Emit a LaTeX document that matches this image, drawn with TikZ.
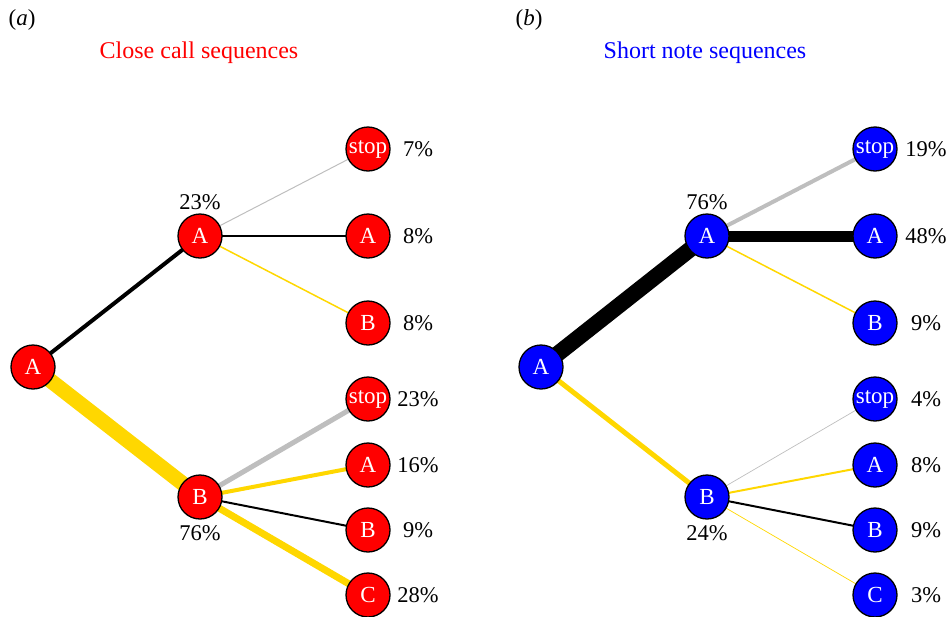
\documentclass[tikz,border=0pt]{standalone}
\usepackage{fontspec}
\setmainfont{Liberation Serif}
\newfontfamily\serifface{Liberation Serif}
\usetikzlibrary{backgrounds}
\definecolor{edgegold}{RGB}{255,215,0}
\definecolor{edgegray}{RGB}{190,190,190}
\definecolor{closered}{RGB}{255,0,0}
\definecolor{noteblue}{RGB}{0,0,255}

\begin{document}
\begin{tikzpicture}[x=1pt,y=-1pt,
  state/.style={circle,draw=black,line width=1.3pt,minimum size=44pt,inner sep=0pt,
    text=white,font=\serifface\fontsize{23}{25}\selectfont},
  redstate/.style={state,fill=closered},
  bluestate/.style={state,fill=noteblue},
  pct/.style={inner sep=0pt,font=\serifface\fontsize{22.5}{24}\selectfont},
  paneltag/.style={inner sep=0pt,font=\serifface\fontsize{23}{25}\selectfont},
  heading/.style={inner sep=0pt,font=\serifface\fontsize{24}{26}\selectfont},
  link/.style={line cap=butt}
]
\useasboundingbox (0,0) rectangle (949,616);

% ---------- panel (a): close calls ----------
\node[paneltag] (tagA) at (22,20) {(\textit{a})};
\node[heading,text=closered] (titleA) at (199,53) {Close call sequences};

\node[redstate] (a0)  at (33,367)  {A};
\node[redstate] (aA)  at (200,236) {A};
\node[redstate] (aB)  at (200,497) {B};
\node[redstate] (aAs) at (368,149) {stop};
\node[redstate] (aAA) at (368,236) {A};
\node[redstate] (aAB) at (368,323) {B};
\node[redstate] (aBs) at (368,399) {stop};
\node[redstate] (aBA) at (368,465) {A};
\node[redstate] (aBB) at (368,530) {B};
\node[redstate] (aBC) at (368,595) {C};

\node[pct] (pA)   at (200,202) {23\%};
\node[pct] (pB)   at (200,533) {76\%};
\node[pct] (pAs)  at (418,149) {7\%};
\node[pct] (pAA)  at (418,236) {8\%};
\node[pct] (pAB)  at (418,323) {8\%};
\node[pct] (pBs)  at (418,399) {23\%};
\node[pct] (pBA)  at (418,465) {16\%};
\node[pct] (pBB)  at (418,530) {9\%};
\node[pct] (pBC)  at (418,595) {28\%};

% ---------- panel (b): short notes ----------
\node[paneltag] (tagB) at (529,20) {(\textit{b})};
\node[heading,text=noteblue] (titleB) at (705,53) {Short note sequences};

\node[bluestate] (b0)  at (541,367) {A};
\node[bluestate] (bA)  at (707,236) {A};
\node[bluestate] (bB)  at (707,497) {B};
\node[bluestate] (bAs) at (875,149) {stop};
\node[bluestate] (bAA) at (875,236) {A};
\node[bluestate] (bAB) at (875,323) {B};
\node[bluestate] (bBs) at (875,399) {stop};
\node[bluestate] (bBA) at (875,465) {A};
\node[bluestate] (bBB) at (875,530) {B};
\node[bluestate] (bBC) at (875,595) {C};

\node[pct] (qA)   at (707,202) {76\%};
\node[pct] (qB)   at (707,533) {24\%};
\node[pct] (qAs)  at (926,149) {19\%};
\node[pct] (qAA)  at (926,236) {48\%};
\node[pct] (qAB)  at (926,323) {9\%};
\node[pct] (qBs)  at (926,399) {4\%};
\node[pct] (qBA)  at (926,465) {8\%};
\node[pct] (qBB)  at (926,530) {9\%};
\node[pct] (qBC)  at (926,595) {3\%};

% transitions, drawn beneath the states
\begin{pgfonlayer}{background}
  \draw[link,black,line width=4pt]     (a0.center) -- (aA.center);
  \draw[link,edgegold,line width=15pt] (a0.center) -- (aB.center);
  \draw[link,edgegray,line width=1pt]  (aA.center) -- (aAs.center);
  \draw[link,black,line width=1.5pt]   (aA.center) -- (aAA.center);
  \draw[link,edgegold,line width=1.5pt](aA.center) -- (aAB.center);
  \draw[link,edgegray,line width=5pt]  (aB.center) -- (aBs.center);
  \draw[link,edgegold,line width=4pt]  (aB.center) -- (aBA.center);
  \draw[link,black,line width=2pt]     (aB.center) -- (aBB.center);
  \draw[link,edgegold,line width=7pt]  (aB.center) -- (aBC.center);

  \draw[link,black,line width=16pt]    (b0.center) -- (bA.center);
  \draw[link,edgegold,line width=5pt]  (b0.center) -- (bB.center);
  \draw[link,edgegray,line width=4pt]  (bA.center) -- (bAs.center);
  \draw[link,black,line width=11pt]    (bA.center) -- (bAA.center);
  \draw[link,edgegold,line width=1.5pt](bA.center) -- (bAB.center);
  \draw[link,edgegray,line width=0.7pt](bB.center) -- (bBs.center);
  \draw[link,edgegold,line width=2pt]  (bB.center) -- (bBA.center);
  \draw[link,black,line width=2pt]     (bB.center) -- (bBB.center);
  \draw[link,edgegold,line width=0.7pt](bB.center) -- (bBC.center);
\end{pgfonlayer}
\end{tikzpicture}
\end{document}
